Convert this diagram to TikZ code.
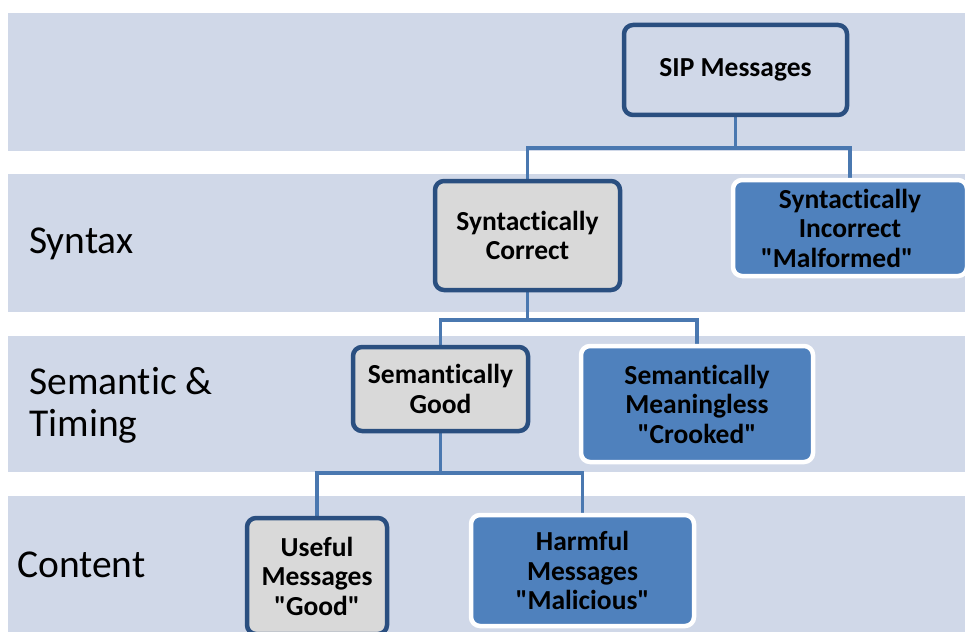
\documentclass[tikz,border=0pt]{standalone}
\usepackage{fontspec}
\setmainfont[Ligatures={TeXOff,NoCommon}]{Carlito}

\definecolor{bandfill}{HTML}{D0D8E8}
\definecolor{darkedge}{HTML}{2A4F80}
\definecolor{linkblue}{HTML}{4A78B0}
\definecolor{boxgray}{HTML}{D9D9D9}
\definecolor{boxblue}{HTML}{4F81BD}

\pgfdeclarelayer{bands}
\pgfdeclarelayer{links}
\pgfsetlayers{bands,links,main}

\tikzset{
  band/.style={fill=bandfill},
  keepbox/.style={draw=darkedge, line width=4.5pt, rounded corners=9pt, fill=boxgray,
    align=center, inner sep=0pt,
    font=\bfseries\fontsize{27.5}{29.5}\selectfont},
  rootbox/.style={keepbox, fill=bandfill},
  dropbox/.style={draw=white, line width=4.5pt, rounded corners=9pt, fill=boxblue,
    align=center, inner sep=0pt,
    font=\bfseries\fontsize{27.5}{29.5}\selectfont},
  levellabel/.style={anchor=west, align=left, inner sep=0pt,
    font=\fontsize{39.5}{42}\selectfont},
  link/.style={draw=linkblue, line width=3.5pt},
}

\begin{document}
\begin{tikzpicture}[x=1pt, y=-1pt]
  \useasboundingbox (0,0) rectangle (965,631);
  \clip (0,0) rectangle (965,631);

  % level bands
  \begin{pgfonlayer}{bands}
    \fill[band] (8,13)  rectangle (965,151);
    \fill[band] (8,174) rectangle (965,312);
    \fill[band] (8,336) rectangle (965,472);
    \fill[band] (8,496) rectangle (965,640);
  \end{pgfonlayer}

  % level labels
  \node[levellabel] (lsyntax)   at (29,244) {Syntax};
  \node[levellabel] (lsemantic) at (29,405) {Semantic \&\\Timing};
  \node[levellabel] (lcontent)  at (17,565) {Content};

  % branch points of the tree
  \coordinate (bus1) at (735.5,148);
  \coordinate (bus2) at (527.5,320);
  \coordinate (bus3) at (440.5,473);

  % boxes
  \node[rootbox, minimum width=223pt, minimum height=90pt]  (sip) at (735.5,70)  {SIP Messages};
  \node[keepbox, minimum width=185pt, minimum height=109pt] (sc)  at (527.5,235.5) {Syntactically\\Correct};
  \node[dropbox, minimum width=234pt, minimum height=96pt]  (si)  at (850,228)   {Syntactically\\Incorrect\\"Malformed"\hbox to 26pt{}};
  \node[keepbox, minimum width=175pt, minimum height=84pt]  (sg)  at (440.5,389) {Semantically\\Good};
  \node[dropbox, minimum width=232pt, minimum height=116pt] (sm)  at (697,404)   {Semantically\\Meaningless\\"Crooked"};
  \node[keepbox, minimum width=140pt, minimum height=116pt] (um)  at (317,576)   {Useful\\Messages\\"Good"};
  \node[dropbox, minimum width=223pt, minimum height=111pt] (hm)  at (582.5,570.5) {Harmful\\Messages\\"Malicious"};

  % connectors, behind the boxes
  \begin{pgfonlayer}{links}
    \draw[link] (sip.south) -- (bus1);
    \draw[link] (bus1) -| (sc.north);
    \draw[link] (bus1) -| (si.north);
    \draw[link] (sc.south) -- (bus2);
    \draw[link] (bus2) -| (sg.north);
    \draw[link] (bus2) -| (sm.north);
    \draw[link] (sg.south) -- (bus3);
    \draw[link] (bus3) -| (um.north);
    \draw[link] (bus3) -| (hm.north);
  \end{pgfonlayer}
\end{tikzpicture}
\end{document}
